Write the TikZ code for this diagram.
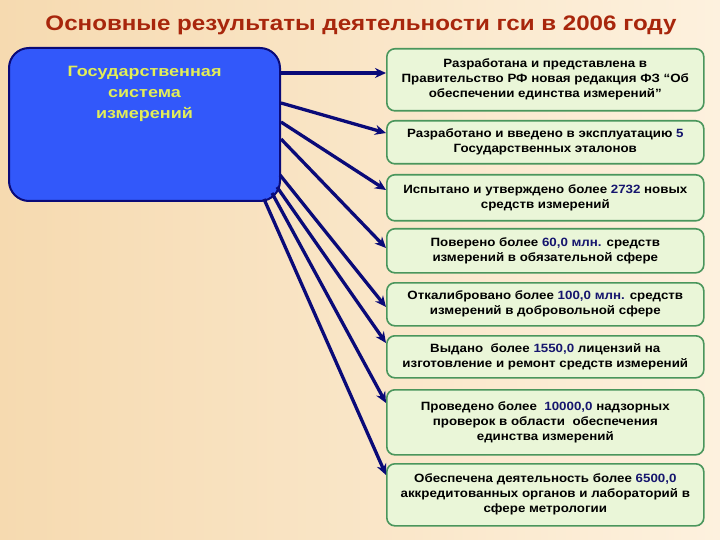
\documentclass[tikz,border=0pt]{standalone}
\usepackage{fontspec}
\setmainfont{Liberation Sans}
\newfontfamily\widefont[FakeStretch=1.11]{Liberation Sans}
\newfontfamily\titlefont[FakeStretch=1.15]{Liberation Sans}
\newfontfamily\gsifont[FakeStretch=1.2]{Liberation Sans}
\usetikzlibrary{arrows.meta}
\definecolor{bgleft}{RGB}{246,218,176}
\definecolor{bgright}{RGB}{253,241,222}
\definecolor{titlec}{RGB}{168,38,12}
\definecolor{navy}{RGB}{10,10,120}
\definecolor{gsiblue}{RGB}{50,88,250}
\definecolor{gsitext}{RGB}{226,238,88}
\definecolor{boxline}{RGB}{74,150,92}
\definecolor{boxfill}{RGB}{234,246,216}
\definecolor{numc}{RGB}{22,22,110}
\newcommand{\num}[1]{\textcolor{numc}{#1}}

\begin{document}
\begin{tikzpicture}[x=1pt,y=-1pt,
    gsibox/.style={draw=navy,line width=2pt,fill=gsiblue,rounded corners=20pt,
      anchor=north west,minimum width=271pt,minimum height=153pt},
    resbox/.style={draw=boxline,line width=1.6pt,fill=boxfill,rounded corners=8pt,
      anchor=north west,minimum width=317pt,align=center,
      font=\widefont\bfseries\fontsize{12}{15}\selectfont},
    link/.style={navy,line width=3.3pt,-{Stealth[length=11pt,width=10pt]}}]
  \useasboundingbox (0,0) rectangle (720,540);
  \shade[left color=bgleft,right color=bgright] (0,0) rectangle (720,540);
  \node[font=\titlefont\bfseries\fontsize{21}{25}\selectfont,text=titlec] (title) at (361,25)
    {Основные результаты деятельности гси в 2006 году};
  % central box
  \node[gsibox,label={[anchor=north,yshift=-16pt,align=center,text=gsitext,
      font=\gsifont\bfseries\fontsize{15}{21}\selectfont]north:Государственная\\система\\измерений}]
    (gsi) at (8,47) {};
  % results
  \node[resbox,minimum height=62pt] (r1) at (386,48)
    {Разработана и представлена в\\Правительство РФ новая редакция ФЗ “Об\\обеспечении единства измерений”};
  \node[resbox,minimum height=43pt] (r2) at (386,120)
    {Разработано и введено в эксплуатацию \num{5}\\Государственных эталонов};
  \node[resbox,minimum height=46pt] (r3) at (386,174)
    {Испытано и утверждено более \num{2732} новых\\средств измерений};
  \node[resbox,minimum height=44pt] (r4) at (386,228)
    {Поверено более \num{60,0 млн.} средств\\измерений в обязательной сфере};
  \node[resbox,minimum height=43pt] (r5) at (386,282)
    {Откалибровано более \num{100,0 млн.} средств\\измерений в добровольной сфере};
  \node[resbox,minimum height=42pt] (r6) at (386,335)
    {Выдано \ более \num{1550,0} лицензий на\\изготовление и ремонт средств измерений};
  \node[resbox,minimum height=65pt] (r7) at (386,389)
    {Проведено более \ \num{10000,0} надзорных\\проверок в области \ обеспечения\\единства измерений};
  \node[resbox,minimum height=62pt] (r8) at (386,463)
    {Обеспечена деятельность более \num{6500,0}\\аккредитованных органов и лабораторий в\\сфере метрологии};
  % arrows
  \foreach \sx/\sy/\n/\ey in {0/26/1/25, 0/56/2/13, 0/75/3/16, 0/92/4/20,
      -1/128/5/25, -4/140/6/8, -9/146/7/14, -17/152/8/12}
    \draw[link] ([shift={(\sx,\sy)}]gsi.north east) -- ([shift={(0,\ey)}]r\n.north west);
\end{tikzpicture}
\end{document}
